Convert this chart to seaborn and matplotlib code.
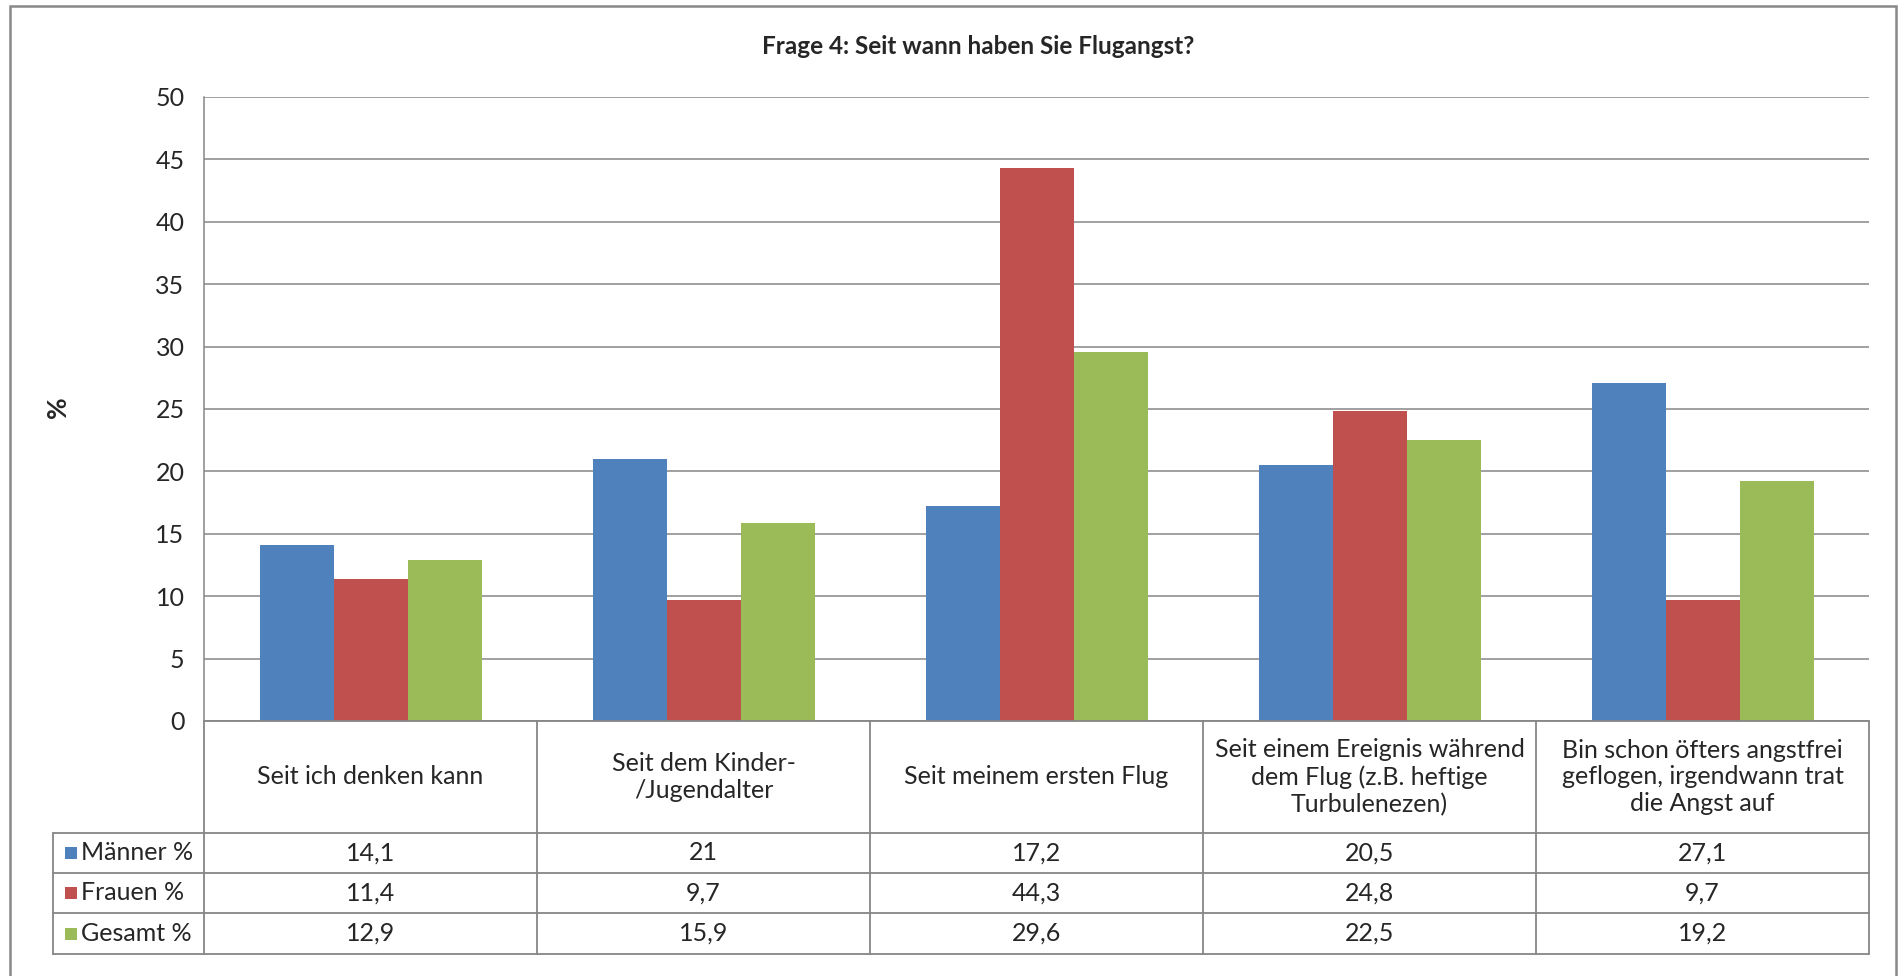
import numpy as np
import pandas as pd
import matplotlib
matplotlib.use("Agg")
import matplotlib.pyplot as plt
import matplotlib.transforms as mtransforms
from matplotlib.lines import Line2D
from matplotlib.patches import Rectangle
import seaborn as sns

# data
categories = [
    "Seit ich denken kann",
    "Seit dem Kinder-\n/Jugendalter",
    "Seit meinem ersten Flug",
    "Seit einem Ereignis während\ndem Flug (z.B. heftige\nTurbulenezen)",
    "Bin schon öfters angstfrei\ngeflogen, irgendwann trat\ndie Angst auf",
]
series = ["Männer %", "Frauen %", "Gesamt %"]
maenner = [14.1, 21, 17.2, 20.5, 27.1]
frauen = [11.4, 9.7, 44.3, 24.8, 9.7]
gesamt = [12.9, 15.9, 29.6, 22.5, 19.2]
colours = ["#4F81BD", "#C0504D", "#9BBB59"]

sns.set_style("white")
plt.rcParams["font.family"] = ["Lato", "DejaVu Sans"]

W, H = 1903, 976
FS = 18
def fx(px):
    return px / W
def fy(py):
    return 1 - py / H

values = [maenner, frauen, gesamt]
df = pd.DataFrame({
    "cat": categories * 3,
    "series": [s for s in series for _ in categories],
    "value": maenner + frauen + gesamt,
})

fig = plt.figure(figsize=(W / 100, H / 100), dpi=100)
ax = fig.add_axes([fx(204), fy(721), fx(1869) - fx(204), fy(97) - fy(721)])

sns.barplot(data=df, x="cat", y="value", hue="series", order=categories,
            hue_order=series, palette=colours, width=2 / 3, gap=0,
            saturation=1, legend=False, ax=ax)
for p in ax.patches:
    p.set_edgecolor("none")

ax.set_xlim(-0.5, len(categories) - 0.5)
ax.set_ylim(0, 50)
ax.set_yticks(range(0, 51, 5))
ax.yaxis.grid(True, color="#868686", linewidth=1.1)
ax.set_axisbelow(True)
ax.tick_params(axis="y", length=0, pad=14, labelsize=FS)
ax.set_xticks([])
ax.set_xlabel("")
ax.set_ylabel("")
for s in ["top", "right", "bottom"]:
    ax.spines[s].set_visible(False)
ax.spines["left"].set_color("#868686")
ax.spines["left"].set_linewidth(1.1)

fig.text(fx(978), fy(46), "Frage 4: Seit wann haben Sie Flugangst?",
         ha="center", va="center", fontsize=17.5, fontweight="bold")
fig.text(fx(58), fy(407), "%", rotation=90, ha="center", va="center",
         fontsize=19, fontweight="bold")

# data table under the plot
blend = mtransforms.blended_transform_factory(ax.transData, fig.transFigure)
grid_kw = dict(color="#868686", linewidth=1.3)
row_lines = [721, 833, 873, 913, 954]
fig.add_artist(Line2D([fx(204), fx(1869)], [fy(721), fy(721)], **grid_kw))
for y in row_lines[1:]:
    fig.add_artist(Line2D([fx(53), fx(1869)], [fy(y), fy(y)], **grid_kw))
fig.add_artist(Line2D([fx(53), fx(53)], [fy(833), fy(954)], **grid_kw))
for i in range(len(categories) + 1):
    fig.add_artist(Line2D([i - 0.5, i - 0.5], [fy(721), fy(954)],
                          transform=blend, **grid_kw))

for i, c in enumerate(categories):
    fig.text(i, fy(777), c, transform=blend, ha="center", va="center",
             fontsize=FS, linespacing=1.2)

for r, (name, vals, col) in enumerate(zip(series, values, colours)):
    top, bot = row_lines[r + 1], row_lines[r + 2]
    yc = (top + bot) / 2
    fig.add_artist(Rectangle((fx(65), fy(yc + 6)), fx(77) - fx(65), fy(yc - 6) - fy(yc + 6),
                             facecolor=col, edgecolor="none"))
    fig.text(fx(81), fy(yc), name, ha="left", va="center", fontsize=FS)
    for i, v in enumerate(vals):
        fig.text(i, fy(yc), f"{v:g}".replace(".", ","), transform=blend,
                 ha="center", va="center", fontsize=FS)

# outer chart frame (cut off at the bottom)
fig.add_artist(Rectangle((fx(10), -0.05), fx(1896) - fx(10), fy(6) + 0.05,
                         fill=False, edgecolor="#888888", linewidth=1.8))

fig.savefig("out.png", dpi=100)
